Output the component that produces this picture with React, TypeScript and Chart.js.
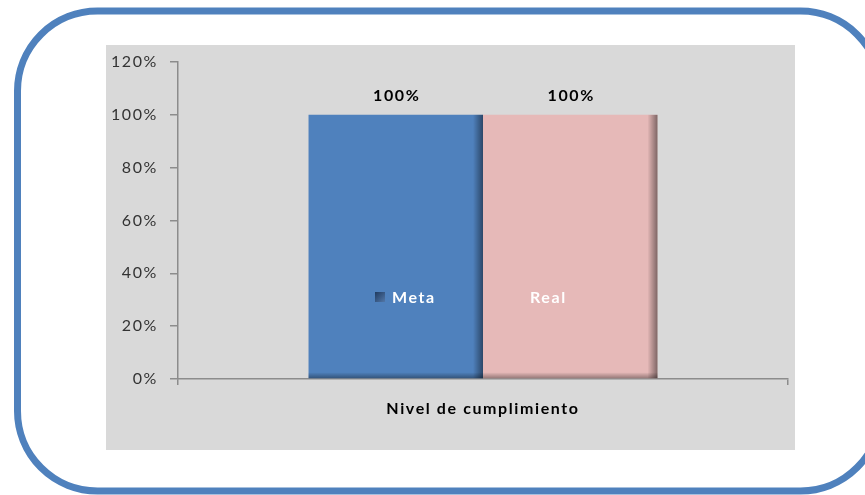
import React, { useEffect, useRef } from "react";
import { Chart, registerables } from "chart.js";
Chart.register(...registerables);

const categories = ["Nivel de cumplimiento"];
const seriesNames = ["Meta", "Real"];
const metaValues = [1.0];
const realValues = [1.0];
const yTicks = [0, 0.2, 0.4, 0.6, 0.8, 1.0, 1.2];

const FONT = "Lato, 'Open Sans', sans-serif";
const META_COLOR = "#4f81bd";
const REAL_COLOR = "#e6b9b8";
const SPACING = "1.6px";

export default function App() {
  const ref = useRef<HTMLCanvasElement>(null);
  useEffect(() => {
    document.body.style.margin = "0";
    const canvas = ref.current!;

    const framePlugin = {
      id: "frame",
      beforeDraw(chart: any) {
        const ctx = chart.ctx;
        ctx.save();
        ctx.fillStyle = "#ffffff";
        ctx.fillRect(0, 0, chart.width, chart.height);
        ctx.fillStyle = "#d9d9d9";
        ctx.fillRect(106, 45, 689, 405);
        ctx.strokeStyle = "#4f81bd";
        ctx.lineWidth = 7;
        ctx.beginPath();
        ctx.roundRect(17.5, 11, 863, 480, 80);
        ctx.stroke();
        ctx.restore();
        ctx.letterSpacing = SPACING;
      },
    };

    const shadePlugin = {
      id: "shade",
      afterDatasetsDraw(chart: any) {
        const ctx = chart.ctx;
        ctx.save();
        chart.data.datasets.forEach((_ds: any, di: number) => {
          const meta = chart.getDatasetMeta(di);
          meta.data.forEach((el: any) => {
            const { x, y, base, width } = el.getProps(["x", "y", "base", "width"], true);
            const left = x - width / 2;
            const right = x + width / 2;
            const sw = 10;
            const g = ctx.createLinearGradient(right - sw, 0, right, 0);
            g.addColorStop(0, "rgba(0,0,0,0)");
            g.addColorStop(1, "rgba(0,0,0,0.45)");
            ctx.fillStyle = g;
            ctx.fillRect(right - sw, y, sw, base - y);
            const bh = 6;
            const g2 = ctx.createLinearGradient(0, base - bh, 0, base);
            g2.addColorStop(0, "rgba(0,0,0,0)");
            g2.addColorStop(1, "rgba(0,0,0,0.35)");
            ctx.fillStyle = g2;
            ctx.fillRect(left, base - bh, width, bh);
            const v = chart.data.datasets[di].data[0];
            ctx.letterSpacing = SPACING;
            ctx.fillStyle = "#000";
            ctx.font = `bold 16px ${FONT}`;
            ctx.textAlign = "center";
            ctx.textBaseline = "middle";
            ctx.fillText(Math.round(v * 100) + "%", x + 1, y - 19);
          });
        });
        ctx.restore();
      },
    };

    const legendPlugin = {
      id: "inlineLegend",
      afterDraw(chart: any) {
        const ctx = chart.ctx;
        const ca = chart.chartArea;
        const cx = (ca.left + ca.right) / 2;
        const cy = ca.top + 235;
        ctx.save();
        ctx.letterSpacing = SPACING;
        ctx.font = `bold 16px ${FONT}`;
        ctx.textBaseline = "middle";
        ctx.textAlign = "left";
        const items = [
          { x: cx - 108, color: ["#1f3a5f", "#5277a8"] },
          { x: cx + 30, color: [REAL_COLOR, REAL_COLOR] },
        ];
        seriesNames.forEach((name, i) => {
          const it = items[i];
          const g = ctx.createLinearGradient(it.x, cy - 5, it.x + 10, cy + 5);
          g.addColorStop(0, it.color[0]);
          g.addColorStop(1, it.color[1]);
          ctx.fillStyle = g;
          ctx.fillRect(it.x, cy - 5, 10, 10);
          ctx.fillStyle = "#ffffff";
          ctx.fillText(name, it.x + 17, cy + 1);
        });
        ctx.restore();
      },
    };

    const chart = new Chart(canvas, {
      type: "bar",
      data: {
        labels: categories,
        datasets: [
          { label: seriesNames[0], data: metaValues, backgroundColor: META_COLOR, borderWidth: 0 },
          { label: seriesNames[1], data: realValues, backgroundColor: REAL_COLOR, borderWidth: 0 },
        ],
      },
      options: {
        responsive: false,
        animation: false,
        layout: { padding: { left: 105, right: 77, top: 62, bottom: 66 } },
        datasets: { bar: { categoryPercentage: 0.572, barPercentage: 1 } },
        plugins: { legend: { display: false }, tooltip: { enabled: false } },
        scales: {
          x: {
            offset: true,
            grid: { display: true, drawOnChartArea: false, offset: true, tickLength: 6, color: "#8c8c8c", lineWidth: 1.5 },
            border: { display: true, color: "#8c8c8c", width: 1.5 },
            ticks: { font: { family: FONT, size: 16, weight: "bold" }, color: "#000", padding: 14 },
            afterFit(scale: any) { scale.height = 50; },
          },
          y: {
            min: 0,
            max: 1.2,
            afterBuildTicks(scale: any) { scale.ticks = yTicks.map((v) => ({ value: v })); },
            ticks: {
              callback: (v: any) => Math.round(Number(v) * 100) + "%",
              font: { family: FONT, size: 16 },
              color: "#333",
              padding: 12,
            },
            grid: { drawOnChartArea: false, tickLength: 8, color: "#8c8c8c", lineWidth: 1.5 },
            border: { color: "#8c8c8c", width: 1.5 },
            afterFit(scale: any) { scale.width = 73; },
          },
        },
      },
      plugins: [framePlugin, shadePlugin, legendPlugin],
    });
    return () => chart.destroy();
  }, []);
  return <canvas ref={ref} width={865} height={495} style={{ display: "block" }} />;
}
